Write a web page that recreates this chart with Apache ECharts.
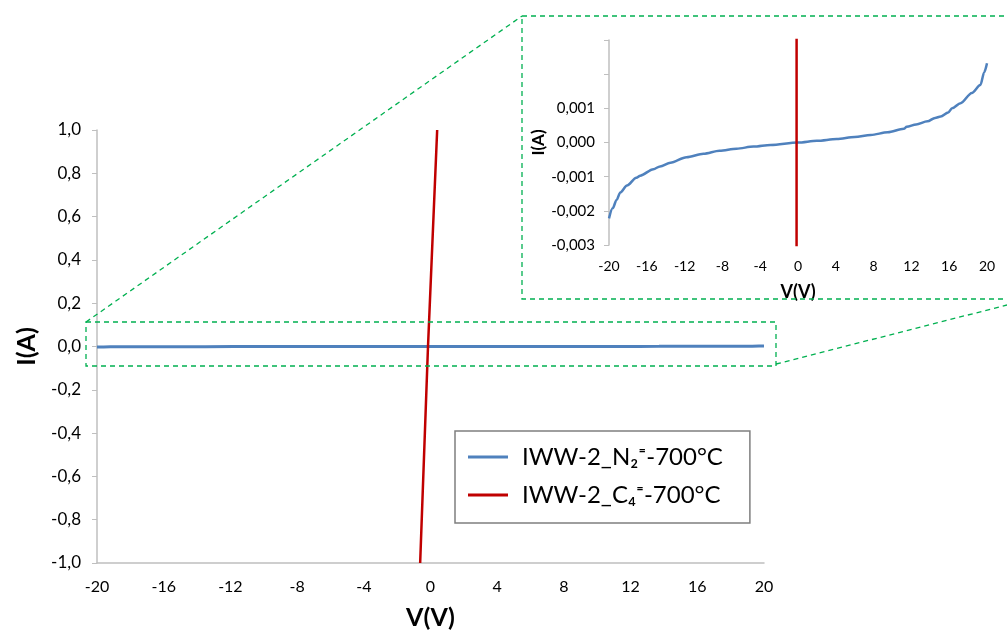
<!DOCTYPE html>
<html>
<head>
<meta charset="utf-8">
<script src="https://cdn.jsdelivr.net/npm/echarts@6/dist/echarts.min.js"></script>
<style>
  html, body { margin: 0; padding: 0; background: #fff; }
  #chart { width: 1007px; height: 635px; }
</style>
</head>
<body>
<div id="chart"></div>
<script>
// blue curve (V in volts, I in amps)
var blueV = [-20, -19.6, -19.2, -18.8, -18.1, -17.1, -16.7, -15.3, -14.6, -13.5, -11.8, -10, -8.3, -6.5, -4.7, -2.9, 0, 2, 4.1, 6, 7.7, 9.5, 11.2, 11.5, 12.5, 13.7, 14.5, 15.1, 15.9, 16.3, 17.2, 18.4, 19.3, 19.7, 20];
var blueI = [-0.00222, -0.00192, -0.00168, -0.00146, -0.00126, -0.00103, -0.00097, -0.00078, -0.0007, -0.00059, -0.00043, -0.00033, -0.00024, -0.00018, -0.00012, -0.00007, 0, 0.00005, 0.0001, 0.00016, 0.00022, 0.0003, 0.0004, 0.00046, 0.00053, 0.00062, 0.00072, 0.00076, 0.00088, 0.001, 0.00115, 0.00145, 0.00168, 0.00205, 0.00232];
// red curve, nearly vertical through 0
var redV = [-0.62, -0.15, 0.4];
var redI = [-1.0, 0, 1.0];

var nameN = 'IWW-2_N\u2082\u207C-700\u00B0C';
var nameC = 'IWW-2_C\u2084\u207C-700\u00B0C';

var blueColor = '#4f81bd';
var redColor = '#c00000';
var green = '#00b050';
var font = 'Lato, "Open Sans", sans-serif';

function pairs(xs, ys) {
  return xs.map(function (x, i) { return [x, ys[i]]; });
}
function comma(v, d) {
  var s = Math.abs(v) < 1e-9 ? (0).toFixed(d) : v.toFixed(d);
  return s.replace('.', ',');
}

var chart = echarts.init(document.getElementById('chart'));
var dash = { stroke: green, lineWidth: 1.3, lineDash: [5, 4], fill: null };

chart.setOption({
  animation: false,
  textStyle: { fontFamily: font },
  grid: [
    { left: 97, top: 130, width: 667, height: 435 },
    { left: 609, top: 40, width: 378, height: 205 }
  ],
  xAxis: [
    {
      gridIndex: 0, type: 'value', min: -20, max: 20, interval: 4,
      name: 'V(V)', nameLocation: 'middle', nameGap: 42,
      nameTextStyle: { fontSize: 25, fontWeight: 'bold', color: '#000', fontFamily: font },
      axisLine: { onZero: false, lineStyle: { color: '#bfbfbf', width: 1.5 } },
      axisTick: { show: false },
      splitLine: { show: false },
      axisLabel: { color: '#000', fontSize: 16, margin: 16, fontFamily: font }
    },
    {
      gridIndex: 1, type: 'value', min: -20, max: 20, interval: 4,
      name: 'V(V)', nameLocation: 'middle', nameGap: 38,
      nameTextStyle: { fontSize: 18, fontWeight: 'bold', color: '#000', fontFamily: font },
      axisLine: { show: false },
      axisTick: { show: false },
      splitLine: { show: false },
      axisLabel: { color: '#000', fontSize: 14, margin: 14, fontFamily: font }
    }
  ],
  yAxis: [
    {
      gridIndex: 0, type: 'value', min: -1, max: 1, interval: 0.2,
      name: 'I(A)', nameLocation: 'middle', nameGap: 58,
      nameTextStyle: { fontSize: 25, fontWeight: 'bold', color: '#000', fontFamily: font },
      axisLine: { show: true, onZero: false, lineStyle: { color: '#bfbfbf', width: 1.5 } },
      axisTick: { show: true, length: 5, lineStyle: { color: '#bfbfbf' } },
      splitLine: { show: false },
      axisLabel: { color: '#000', fontSize: 17, margin: 16, formatter: function (v) { return comma(v, 1); } }
    },
    {
      gridIndex: 1, type: 'value', min: -0.003, max: 0.003, interval: 0.001,
      name: 'I(A)', nameLocation: 'middle', nameGap: 60,
      nameTextStyle: { fontSize: 17, fontWeight: 'bold', color: '#000', fontFamily: font },
      axisLine: { show: true, onZero: false, lineStyle: { color: '#bfbfbf', width: 1.5 } },
      axisTick: { show: true, length: 5, lineStyle: { color: '#bfbfbf' } },
      splitLine: { show: false },
      axisLabel: {
        color: '#000', fontSize: 15, margin: 14,
        formatter: function (v) { return v > 0.0015 ? '' : comma(v, 3); }
      }
    }
  ],
  legend: {
    data: [nameN, nameC],
    orient: 'vertical',
    left: 455, top: 431,
    backgroundColor: '#fff',
    borderColor: '#7f7f7f', borderWidth: 1.5, borderRadius: 0,
    padding: [14, 27, 16, 13],
    itemGap: 14,
    itemWidth: 40, itemHeight: 3,
    icon: 'rect',
    textStyle: { fontSize: 24, color: '#000', fontFamily: font, padding: [0, 0, 0, 9] }
  },
  series: [
    {
      name: nameN, type: 'line', xAxisIndex: 0, yAxisIndex: 0,
      data: pairs(blueV, blueI), showSymbol: false, symbol: 'none',
      lineStyle: { color: blueColor, width: 3 }, itemStyle: { color: blueColor }
    },
    {
      name: nameC, type: 'line', xAxisIndex: 0, yAxisIndex: 0,
      data: pairs(redV, redI), showSymbol: false, symbol: 'none',
      lineStyle: { color: redColor, width: 2.5 }, itemStyle: { color: redColor }
    },
    {
      name: nameN, type: 'line', xAxisIndex: 1, yAxisIndex: 1,
      data: pairs(blueV, blueI), showSymbol: false, symbol: 'none',
      smooth: 0.3, smoothMonotone: 'x',
      lineStyle: { color: blueColor, width: 2.5 }, itemStyle: { color: blueColor }
    },
    {
      name: nameC, type: 'line', xAxisIndex: 1, yAxisIndex: 1,
      data: pairs(redV, redI), showSymbol: false, symbol: 'none', clip: true,
      lineStyle: { color: redColor, width: 2.5 }, itemStyle: { color: redColor }
    }
  ],
  // zoom frame, inset frame and connector lines
  graphic: [
    { type: 'rect', shape: { x: 86, y: 322, width: 690, height: 44 }, style: dash, z: 10 },
    { type: 'rect', shape: { x: 522, y: 16, width: 495, height: 283 }, style: dash, z: 10 },
    { type: 'line', shape: { x1: 86, y1: 322, x2: 522, y2: 16 }, style: dash, z: 10 },
    { type: 'line', shape: { x1: 776, y1: 364, x2: 1007, y2: 305 }, style: dash, z: 10 }
  ]
});
</script>
</body>
</html>
